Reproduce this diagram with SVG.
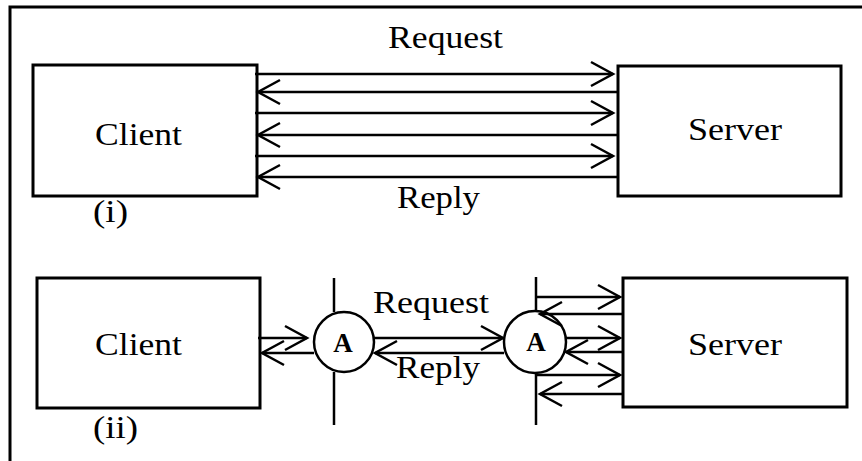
<svg xmlns="http://www.w3.org/2000/svg" width="862" height="461" viewBox="0 0 862 461">
<style>
.box{fill:#fff;stroke:#000;stroke-width:3}
.ln{stroke:#000;stroke-width:2.5;fill:none}
.ar{stroke:#000;stroke-width:2.5;fill:none;marker-end:url(#v)}
.t{font-family:"Liberation Serif","Times New Roman",serif;font-size:31px;fill:#000}
.a{font-family:"Liberation Serif","Times New Roman",serif;font-size:27px;font-weight:bold;fill:#000;text-anchor:middle}
</style>
<defs>
<marker id="v" markerUnits="userSpaceOnUse" viewBox="-26 -15 28 30" refX="0" refY="0" markerWidth="28" markerHeight="30" orient="auto" overflow="visible">
<path d="M-22,-12 L0,0 L-22,12" fill="none" stroke="#000" stroke-width="2.5"/>
</marker>
</defs>
<rect x="10" y="7" width="900" height="500" fill="#fff" stroke="#000" stroke-width="3"/>
<g id="client1"><rect class="box" x="33" y="65" width="224" height="131"/><text class="t" x="95" y="145" textLength="87" lengthAdjust="spacingAndGlyphs">Client</text></g>
<g id="server1"><rect class="box" x="618" y="66" width="223" height="130"/><text class="t" x="688" y="140" textLength="94" lengthAdjust="spacingAndGlyphs">Server</text></g>
<g id="client2"><rect class="box" x="37" y="278" width="223" height="130"/><text class="t" x="95" y="355" textLength="87" lengthAdjust="spacingAndGlyphs">Client</text></g>
<g id="server2"><rect class="box" x="623" y="278" width="224" height="129"/><text class="t" x="688" y="355" textLength="94" lengthAdjust="spacingAndGlyphs">Server</text></g>
<g id="agent1"><circle cx="344" cy="342" r="30" fill="#fff" stroke="#000" stroke-width="2.5"/><text class="a" x="343" y="352">A</text></g>
<g id="agent2"><circle cx="535" cy="342" r="31" fill="#fff" stroke="#000" stroke-width="2.5"/><text class="a" x="536" y="351">A</text></g>
<g id="labels">
<text class="t" x="388" y="48" textLength="115" lengthAdjust="spacingAndGlyphs">Request</text>
<text class="t" x="397" y="208" textLength="83" lengthAdjust="spacingAndGlyphs">Reply</text>
<text class="t" x="93" y="222" textLength="35" lengthAdjust="spacingAndGlyphs">(i)</text>
<text class="t" x="93" y="438" textLength="45" lengthAdjust="spacingAndGlyphs">(ii)</text>
<text class="t" x="373" y="313" textLength="116" lengthAdjust="spacingAndGlyphs">Request</text>
<text class="t" x="396" y="378" textLength="84" lengthAdjust="spacingAndGlyphs">Reply</text>
</g>
<g id="connectors">
<line class="ar" x1="255" y1="74" x2="613" y2="74"/>
<line class="ar" x1="618" y1="92" x2="258" y2="92"/>
<line class="ar" x1="255" y1="113" x2="613" y2="113"/>
<line class="ar" x1="618" y1="135" x2="258" y2="135"/>
<line class="ar" x1="255" y1="156" x2="613" y2="156"/>
<line class="ar" x1="618" y1="177" x2="258" y2="177"/>
<line class="ln" x1="334" y1="278" x2="334" y2="312"/>
<line class="ln" x1="334" y1="372" x2="334" y2="425"/>
<line class="ln" x1="536" y1="277" x2="536" y2="311"/>
<line class="ln" x1="536" y1="373" x2="536" y2="425"/>
<line class="ar" x1="258" y1="338" x2="307" y2="338"/>
<line class="ar" x1="314" y1="353" x2="262" y2="353"/>
<line class="ar" x1="374" y1="338" x2="503" y2="338"/>
<line class="ar" x1="504" y1="353" x2="375" y2="353"/>
<line class="ar" x1="536" y1="297" x2="620" y2="297"/>
<line class="ar" x1="623" y1="314" x2="540" y2="314"/>
<line class="ar" x1="566" y1="338" x2="620" y2="338"/>
<line class="ar" x1="623" y1="352" x2="566" y2="352"/>
<line class="ar" x1="536" y1="375" x2="620" y2="375"/>
<line class="ar" x1="623" y1="394" x2="540" y2="394"/>
</g>
</svg>
